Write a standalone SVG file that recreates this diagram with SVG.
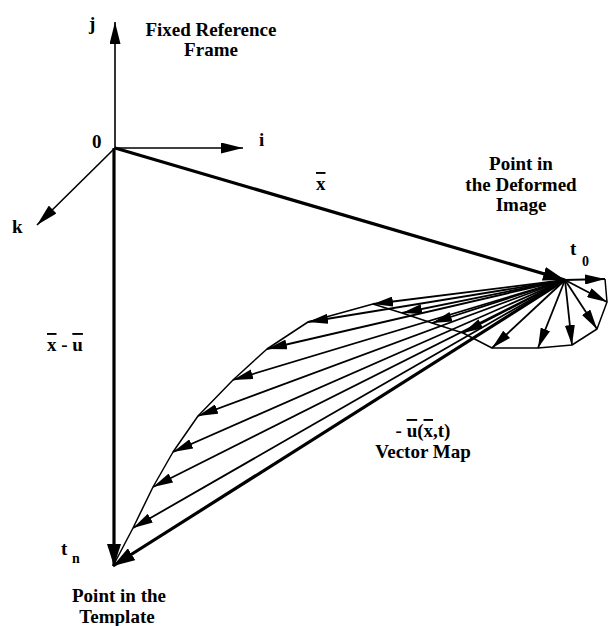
<svg xmlns="http://www.w3.org/2000/svg" width="608" height="626" viewBox="0 0 608 626">
<defs>
<style>
.t{font-family:"Liberation Serif","Times New Roman",serif;font-weight:bold;fill:#000}
.lbl{font-size:19px}
.sub{font-size:14px}
.ov{text-decoration:overline}
.ax{stroke:#000;stroke-width:1.6;fill:none}
.thick{stroke:#000;stroke-width:3.2;fill:none}
.fan{stroke:#000;stroke-width:1.8;fill:none;marker-end:url(#ah)}
.curve{stroke:#000;stroke-width:1.5;fill:none;stroke-linejoin:round}
</style>
<marker id="ah" markerUnits="userSpaceOnUse" markerWidth="20" markerHeight="10" refX="20" refY="5" orient="auto">
<path d="M0,0 L20,5 L0,10 z" fill="#000"/>
</marker>
<marker id="ahb" markerUnits="userSpaceOnUse" markerWidth="22" markerHeight="14" refX="22" refY="7" orient="auto">
<path d="M0,0 L22,7 L0,14 z" fill="#000"/>
</marker>
<marker id="aha" markerUnits="userSpaceOnUse" markerWidth="22" markerHeight="11" refX="22" refY="5.5" orient="auto">
<path d="M0,0 L22,5.5 L0,11 z" fill="#000"/>
</marker>
</defs>
<rect width="608" height="626" fill="#fff"/>

<g id="connectors">
<line class="ax" x1="115" y1="148" x2="115" y2="22" marker-end="url(#aha)"/>
<line class="ax" x1="115" y1="148" x2="243" y2="148" marker-end="url(#aha)"/>
<line class="ax" x1="115" y1="148" x2="37" y2="225" marker-end="url(#aha)"/>
<line class="thick" x1="115" y1="148" x2="565" y2="280" marker-end="url(#ahb)"/>
<line class="thick" x1="114" y1="148" x2="114" y2="566" marker-end="url(#ahb)"/>
<polyline class="curve" points="605,279 607,302 597,329 572,345 538,348 492,348 463,333 432,323 402,313 373,304 308,322 267,349 233,380 198,416 173,452 153,487 133,528 113,566"/>
<g id="fan">
<line class="fan" x1="565" y1="280" x2="605" y2="279"/>
<line class="fan" x1="565" y1="280" x2="607" y2="302"/>
<line class="fan" x1="565" y1="280" x2="597" y2="329"/>
<line class="fan" x1="565" y1="280" x2="572" y2="345"/>
<line class="fan" x1="565" y1="280" x2="538" y2="348"/>
<line class="fan" x1="565" y1="280" x2="492" y2="348"/>
<line class="fan" x1="565" y1="280" x2="463" y2="333"/>
<line class="fan" x1="565" y1="280" x2="432" y2="323"/>
<line class="fan" x1="565" y1="280" x2="402" y2="313"/>
<line class="fan" x1="565" y1="280" x2="373" y2="304"/>
<line class="fan" x1="565" y1="280" x2="308" y2="322"/>
<line class="fan" x1="565" y1="280" x2="267" y2="349"/>
<line class="fan" x1="565" y1="280" x2="233" y2="380"/>
<line class="fan" x1="565" y1="280" x2="198" y2="416"/>
<line class="fan" x1="565" y1="280" x2="173" y2="452"/>
<line class="fan" x1="565" y1="280" x2="153" y2="487"/>
<line class="fan" x1="565" y1="280" x2="133" y2="528"/>
<line class="thick" x1="565" y1="280" x2="113" y2="566" marker-end="url(#ahb)"/>
</g>
</g>

<g id="axis-labels">
<text class="t lbl" x="89" y="30">j</text>
<text class="t lbl" x="92" y="148">0</text>
<text class="t lbl" x="259" y="146">i</text>
<text class="t lbl" x="12" y="233">k</text>
</g>

<g id="frame-label">
<text class="t lbl" x="211" y="36" text-anchor="middle">Fixed Reference</text>
<text class="t lbl" x="211" y="56" text-anchor="middle">Frame</text>
</g>

<g id="x-label">
<text class="t lbl" x="316" y="190"><tspan class="ov">x</tspan></text>
</g>

<g id="deformed-point">
<text class="t lbl" x="521" y="170" text-anchor="middle">Point in</text>
<text class="t lbl" x="521" y="191" text-anchor="middle">the Deformed</text>
<text class="t lbl" x="521" y="211" text-anchor="middle">Image</text>
<text class="t lbl" x="570" y="255">t</text>
<text class="t sub" x="582" y="266">0</text>
</g>

<g id="xu-label">
<text class="t lbl" x="47" y="351"><tspan class="ov">x</tspan> - <tspan class="ov">u</tspan></text>
</g>

<g id="vector-map">
<text class="t lbl" x="423" y="437" text-anchor="middle">- <tspan class="ov">u</tspan>(<tspan class="ov">x</tspan>,t)</text>
<text class="t lbl" x="423" y="458" text-anchor="middle">Vector Map</text>
</g>

<g id="template-point">
<text class="t lbl" x="61" y="555">t</text>
<text class="t sub" x="72" y="563">n</text>
<text class="t lbl" x="119" y="602" text-anchor="middle">Point in the</text>
<text class="t lbl" x="117" y="623" text-anchor="middle">Template</text>
</g>
</svg>
